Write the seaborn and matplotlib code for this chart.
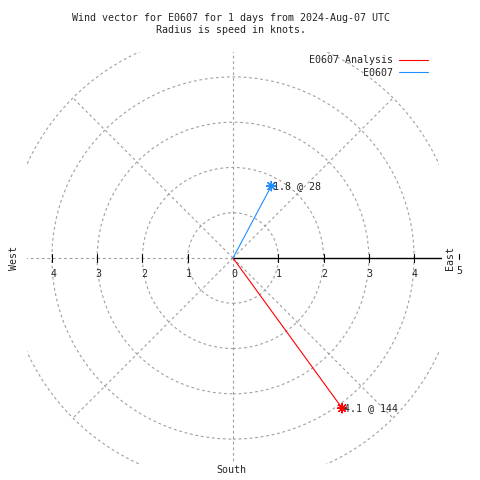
import numpy as np
import pandas as pd
import matplotlib
matplotlib.use("Agg")
import matplotlib.pyplot as plt
import seaborn as sns
from matplotlib.patches import Circle

# dados do vetor de vento
series = ["E0607 Analysis", "E0607"]
speeds = [4.1, 1.8]          # nós
directions = [144, 28]       # graus, sentido horário a partir do norte
colors = ["#ff0000", "#1e8fff"]
rings = [1, 2, 3, 4, 5]
spokes = [0, 45, 135, 180, 225, 270, 315]
tick_vals = [1, 2, 3, 4]

title = "Wind vector for E0607 for 1 days from 2024-Aug-07 UTC\nRadius is speed in knots."

sns.set_style("white")
plt.rcParams["font.family"] = ["DejaVu Sans Mono"]
plt.rcParams["font.size"] = 7.2

# monta a tabela com origem e ponta de cada vetor
rows = []
for nome, s, d in zip(series, speeds, directions):
    rad = np.deg2rad(d)
    rows.append({"serie": nome, "x": 0.0, "y": 0.0, "ordem": 0})
    rows.append({"serie": nome, "x": s * np.sin(rad), "y": s * np.cos(rad), "ordem": 1})
df = pd.DataFrame(rows)
pontas = df[df["ordem"] == 1].copy()
pontas["rotulo"] = [f"{s} @ {d}" for s, d in zip(speeds, directions)]
paleta = dict(zip(series, colors))

fig = plt.figure(figsize=(4.8, 4.8), dpi=100)
lim = 4.55
ax = fig.add_axes([27 / 480, 16 / 480, 412 / 480, 412 / 480])

# grade polar tracejada
grid_kw = dict(color="#a0a0a0", lw=0.8, ls=(0, (2.5, 2.5)))
for r in rings:
    ax.add_patch(Circle((0, 0), r, fill=False, ec="#a0a0a0", lw=0.8, ls=(0, (2.5, 2.5))))
for a in spokes:
    t = np.deg2rad(a)
    ax.plot([0, 5 * np.sin(t)], [0, 5 * np.cos(t)], **grid_kw)

# eixo leste e marcas
ax.plot([0, 4.6], [0, 0], color="black", lw=1, clip_on=False)
for v in tick_vals:
    ax.plot([v, v], [-0.08, 0.08], color="black", lw=0.8)
    ax.plot([-v, -v], [-0.08, 0.08], color="black", lw=0.8)
    ax.text(v + 0.02, -0.36, str(v), ha="center", va="center")
    ax.text(-v + 0.03, -0.36, str(v), ha="center", va="center")
ax.text(0.02, -0.36, "0", ha="center", va="center")
ax.plot([5, 5], [-0.02, 0.09], color="black", lw=0.8, clip_on=False)
ax.text(5.0, -0.29, "5", ha="center", va="center", clip_on=False)

ax.text(-4.83, 0, "West", rotation=90, ha="center", va="center")
ax.text(4.79, 0, "East", rotation=90, ha="center", va="center")
ax.text(-0.04, -4.68, "South", ha="center", va="center")

# vetores
sns.lineplot(data=df, x="x", y="y", hue="serie", hue_order=series, palette=paleta,
             sort=False, estimator=None, lw=0.8, ax=ax)
sns.scatterplot(data=pontas, x="x", y="y", hue="serie", hue_order=series, palette=paleta,
                marker=(8, 2, 0), s=45, linewidth=0.9, legend=False, ax=ax)
for _, p in pontas.iterrows():
    ax.text(p["x"] + 0.04, p["y"], p["rotulo"], ha="left", va="center")

ax.legend(title=None, markerfirst=False, frameon=False, loc="upper right",
          bbox_to_anchor=(428 / 480, 1 - 55 / 480), bbox_transform=fig.transFigure,
          handlelength=2.9, handletextpad=0.6, labelspacing=0.25,
          borderpad=0, borderaxespad=0)

ax.set_xlim(-lim, lim)
ax.set_ylim(-lim, lim)
ax.set_aspect("equal")
ax.set_axis_off()

fig.text(231 / 480, 1 - 13 / 480, title, ha="center", va="top", linespacing=1.3)

fig.savefig("out.png", dpi=100)
